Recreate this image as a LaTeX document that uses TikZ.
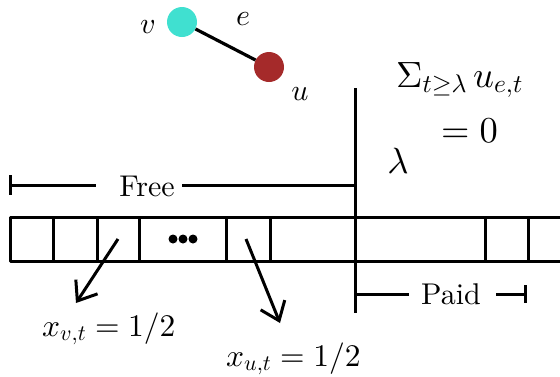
\documentclass[tikz,border=0pt]{standalone}
\usepackage{fontspec}
\setmainfont{lmroman10-regular.otf}
\DeclareFontShape{OT1}{cmr}{m}{n}{<->cmr10}{}
\DeclareFontShape{OML}{cmm}{m}{it}{<->cmmi10}{}
\DeclareFontShape{OMS}{cmsy}{m}{n}{<->cmsy10}{}
\usetikzlibrary{arrows.meta}
\definecolor{vcol}{HTML}{40E0D0}
\definecolor{ucol}{HTML}{A52A2A}
\begin{document}
\begin{tikzpicture}[x=1pt,y=-1pt,
  lbl/.style={font=\fontsize{30}{36}\selectfont, inner sep=0pt},
  xlbl/.style={font=\fontsize{31.5}{38}\selectfont, inner sep=0pt},
  biglbl/.style={font=\fontsize{36.5}{42}\selectfont, inner sep=0pt},
  thk/.style={line width=3pt},
  arr/.style={line width=3pt, -{Straight Barb[length=17pt,width=26pt]}},
  vtx/.style={circle, minimum size=30pt, inner sep=0pt},
  dot/.style={circle, fill=black, minimum size=9pt, inner sep=0pt}]
\useasboundingbox (0,0) rectangle (560,376);

% graph edge
\node[vtx, fill=vcol] (v) at (182,22) {};
\node[vtx, fill=ucol] (u) at (269,67) {};
\draw[line width=3.2pt] (v) -- (u);
\node[lbl, anchor=base] (lv) at (148,33) {$v$};
\node[lbl, anchor=base] (le) at (243,25) {$e$};
\node[lbl, anchor=base] (lu) at (300,100) {$u$};

% sum label
\node[biglbl, anchor=base west] (sum) at (396,87) {$\Sigma_{t\geq\lambda}\, u_{e,t}$};
\node[biglbl, anchor=base west] (zero) at (441,142) {$=0$};
\node[biglbl, anchor=base] (lam) at (398,173) {$\lambda$};

% threshold line
\coordinate (ltop) at (355,88);
\coordinate (lbot) at (355,313);
\draw[thk] (ltop) -- (lbot);

% Free bracket
\node[lbl, anchor=base] (free) at (147,196) {Free};
\coordinate (fl) at (10,185);
\draw[thk] (10,175) -- (10,195);
\draw[thk] (fl) -- (96,185);
\draw[thk] (182,185) -- (355,185);

% Paid bracket
\node[lbl, anchor=base] (paid) at (451,304) {Paid};
\draw[thk] (355,294) -- (409,294);
\draw[thk] (496,294) -- (525,294);
\draw[thk] (525,285) -- (525,303);

% cells
\draw[thk, line join=round] (560,217) -- (10,217) -- (10,261) -- (560,261);
\foreach \cx in {53,97,139,226,270,485,528}
  \draw[thk] (\cx,217) -- (\cx,261);
\node[dot] (d1) at (173,239) {};
\node[dot] (d2) at (183,239) {};
\node[dot] (d3) at (193,239) {};

% arrows
\coordinate (av) at (118,239);
\coordinate (avt) at (76,303);
\coordinate (au) at (246,239);
\coordinate (aut) at (280,323);
\draw[arr] (av) -- (avt);
\draw[arr] (au) -- (aut);

\node[xlbl, anchor=base west] (xv) at (42,336) {$x_{v,t} = 1/2$};
\node[xlbl, anchor=base west] (xu) at (226,366) {$x_{u,t} = 1/2$};
\end{tikzpicture}
\end{document}
